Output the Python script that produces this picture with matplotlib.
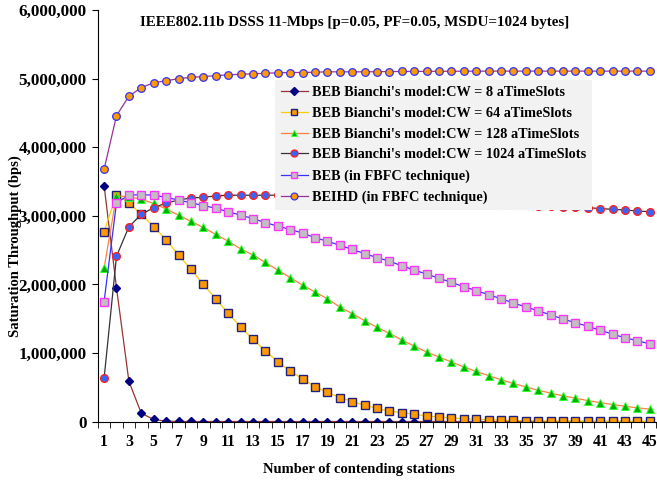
import matplotlib
matplotlib.use("Agg")
import matplotlib.pyplot as plt
from matplotlib.ticker import FuncFormatter, FixedLocator

# ==================== データ ====================
stations = list(range(1, 46))

cw8 = [3440000, 1950000, 586000, 120000, 30000, 5000, 1000, 200, 50, 10,
       0, 0, 0, 0, 0, 0, 0, 0, 0, 0, 0, 0, 0, 0, 0, 0, 0, 0, 0, 0,
       0, 0, 0, 0, 0, 0, 0, 0, 0, 0, 0, 0, 0, 0, 0]

cw64 = [2770000, 3310000, 3190000, 3020000, 2840000, 2650000, 2430000, 2220000, 2000000, 1790000,
        1580000, 1380000, 1200000, 1030000, 870000, 736000, 620000, 510000, 425000, 350000,
        290000, 240000, 190000, 150000, 130000, 105000, 80000, 66000, 50000, 40000,
        32000, 25000, 20000, 16000, 13000, 10000, 8000, 6500, 5000, 4000,
        3200, 2500, 2000, 1600, 1300]

cw128 = [2240000, 3290000, 3280000, 3240000, 3180000, 3100000, 3010000, 2920000, 2830000, 2730000,
         2630000, 2520000, 2430000, 2320000, 2210000, 2100000, 1990000, 1890000, 1790000, 1670000,
         1575000, 1470000, 1375000, 1285000, 1190000, 1100000, 1015000, 940000, 870000, 795000,
         730000, 670000, 610000, 555000, 505000, 455000, 415000, 375000, 340000, 305000,
         275000, 248000, 222000, 200000, 180000]

cw1024 = [630000, 2410000, 2840000, 3020000, 3120000, 3185000, 3230000, 3260000, 3270000, 3290000,
          3300000, 3300000, 3300000, 3300000, 3300000, 3295000, 3290000, 3285000, 3280000, 3270000,
          3262000, 3255000, 3245000, 3237000, 3228000, 3220000, 3212000, 3204000, 3196000, 3188000,
          3180000, 3172000, 3165000, 3158000, 3151000, 3144000, 3138000, 3132000, 3126000, 3120000,
          3105000, 3095000, 3085000, 3070000, 3060000]

beb_fbfc = [1750000, 3190000, 3300000, 3310000, 3300000, 3270000, 3230000, 3190000, 3150000, 3110000,
            3060000, 3010000, 2960000, 2900000, 2850000, 2800000, 2750000, 2680000, 2630000, 2570000,
            2510000, 2450000, 2390000, 2340000, 2270000, 2210000, 2150000, 2090000, 2030000, 1965000,
            1910000, 1850000, 1790000, 1730000, 1670000, 1615000, 1555000, 1495000, 1440000, 1390000,
            1330000, 1275000, 1220000, 1180000, 1130000]

beihd = [3680000, 4460000, 4745000, 4870000, 4940000, 4970000, 5000000, 5020000, 5030000, 5045000,
         5055000, 5065000, 5070000, 5080000, 5085000, 5090000, 5090000, 5095000, 5100000, 5100000,
         5100000, 5100000, 5102000, 5104000, 5105000, 5106000, 5107000, 5108000, 5108000, 5109000,
         5109000, 5110000, 5110000, 5110000, 5110000, 5110000, 5110000, 5110000, 5110000, 5110000,
         5110000, 5110000, 5110000, 5110000, 5110000]

labels = [
    "BEB Bianchi's model:CW = 8 aTimeSlots",
    "BEB Bianchi's model:CW = 64 aTimeSlots",
    "BEB Bianchi's model:CW = 128 aTimeSlots",
    "BEB Bianchi's model:CW = 1024 aTimeSlots",
    "BEB (in FBFC technique)",
    "BEIHD (in FBFC technique)",
]

# ==================== 描画 ====================
plt.rcParams["font.family"] = ["Liberation Serif", "DejaVu Serif"]
plt.rcParams["font.weight"] = "bold"

fig = plt.figure(figsize=(6.57, 4.82), dpi=100)
ax = fig.add_axes([0.149, 0.1255, 0.8495, 0.8535])

ax.plot(stations, cw8, "-", color="#993333", lw=0.9, marker="D", ms=4,
        mfc="#000080", mec="#000080", label=labels[0])
ax.plot(stations, cw64, "-", color="#FFCC00", lw=0.9, marker="s", ms=5.5,
        mfc="#FF9900", mec="#1F1F80", mew=1.0, label=labels[1])
ax.plot(stations, cw128, "-", color="#FF8040", lw=0.9, marker="^", ms=5.5,
        mfc="#00B000", mec="#33FF33", mew=0.7, label=labels[2])
ax.plot(stations, cw1024, "-", color="#333333", lw=0.9, marker="o", ms=5.5,
        mfc="#3366FF", mec="#FF2020", mew=1.0, label=labels[3])
ax.plot(stations, beb_fbfc, "-", color="#3333FF", lw=0.9, marker="s", ms=5.5,
        mfc="#C0C0C0", mec="#FF33FF", mew=1.0, label=labels[4])
ax.plot(stations, beihd, "-", color="#993399", lw=0.9, marker="o", ms=5.5,
        mfc="#FF9900", mec="#3333FF", mew=0.9, label=labels[5])

ax.set_xlim(0.5, 45.5)
ax.set_ylim(0, 6000000)

# 軸とティック
for s in ["top", "right"]:
    ax.spines[s].set_visible(False)
ax.yaxis.set_major_locator(FixedLocator(range(0, 6000001, 1000000)))
ax.yaxis.set_major_formatter(FuncFormatter(lambda v, p: f"{int(v):,}"))
ax.tick_params(axis="y", direction="out", length=4, pad=4, labelsize=12.3)

ax.set_xticks(stations)
ax.set_xticklabels([str(n) if n % 2 == 1 else "" for n in stations])
ax.set_xticks([n + 0.5 for n in range(0, 46)], minor=True)
ax.tick_params(axis="x", which="major", length=0, pad=9, labelsize=11.3)
ax.tick_params(axis="x", which="minor", direction="out", length=4)

for lab in ax.get_xticklabels() + ax.get_yticklabels():
    lab.set_fontweight("bold")

fig.text(0.54, 0.954, "IEEE802.11b DSSS 11-Mbps [p=0.05, PF=0.05, MSDU=1024 bytes]",
         ha="center", va="center", fontsize=10.8, fontweight="bold")
fig.text(0.023, 0.49, "Saturation Throughput (bps)", rotation=90,
         ha="center", va="center", fontsize=10.5, fontweight="bold")
fig.text(0.546, 0.025, "Number of contending stations",
         ha="center", va="center", fontsize=10.5, fontweight="bold")

leg = ax.legend(loc="upper left", bbox_to_anchor=(0.317, 0.83), borderaxespad=0,
                frameon=True, fancybox=False, framealpha=1, facecolor="#F2F2F2",
                edgecolor="none", prop={"size": 10.3, "weight": "bold"},
                handlelength=1.9, handletextpad=0.3, labelspacing=0.55,
                borderpad=0.4, markerscale=0.9)

fig.savefig("out.png", dpi=100)
